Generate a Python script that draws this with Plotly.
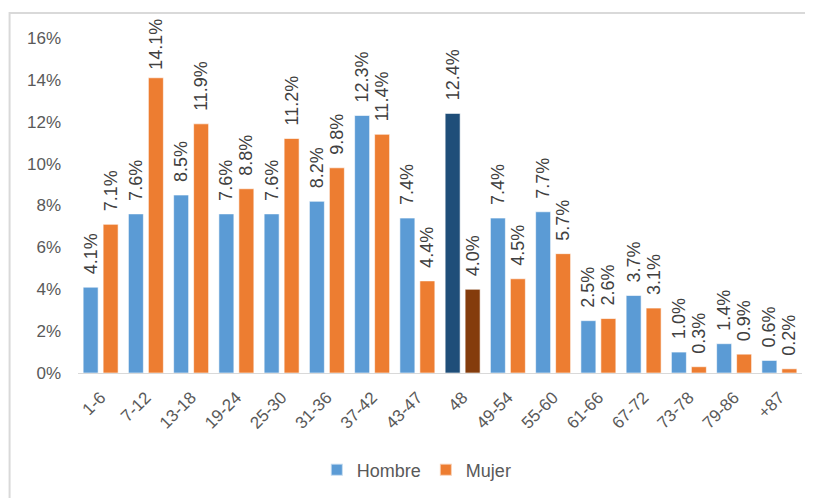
import plotly.graph_objects as go

categories = ["1-6", "7-12", "13-18", "19-24", "25-30", "31-36", "37-42", "43-47",
              "48", "49-54", "55-60", "61-66", "67-72", "73-78", "79-86", "+87"]
hombre = [4.1, 7.6, 8.5, 7.6, 7.6, 8.2, 12.3, 7.4, 12.4, 7.4, 7.7, 2.5, 3.7, 1.0, 1.4, 0.6]
mujer = [7.1, 14.1, 11.9, 8.8, 11.2, 9.8, 11.4, 4.4, 4.0, 4.5, 5.7, 2.6, 3.1, 0.3, 0.9, 0.2]
y_ticks = [0, 2, 4, 6, 8, 10, 12, 14, 16]
highlight = "48"

blue, blue_dark = "#5B9BD5", "#1F4E79"
orange, orange_dark = "#ED7D31", "#843C0C"

h_colors = [blue_dark if c == highlight else blue for c in categories]
m_colors = [orange_dark if c == highlight else orange for c in categories]

font_family = "Liberation Sans, Arial, sans-serif"


def labels(vals):
    # leading no-break spaces give the gap between bar end and rotated label
    return [("\u00a0" if v > 13.5 else "\u00a0\u00a0") + f"{v:.1f}%" for v in vals]


fig = go.Figure()
fig.add_trace(go.Bar(
    x=categories, y=[v / 100 for v in hombre], name="Hombre",
    marker=dict(color=h_colors, line=dict(color="rgba(255,255,255,0.6)", width=1)),
    text=labels(hombre), textposition="outside", textangle=-90,
    textfont=dict(size=18, color="#404040", family=font_family),
    cliponaxis=False,
))
fig.add_trace(go.Bar(
    x=categories, y=[v / 100 for v in mujer], name="Mujer",
    marker=dict(color=m_colors, line=dict(color="rgba(255,255,255,0.6)", width=1)),
    text=labels(mujer), textposition="outside", textangle=-90,
    textfont=dict(size=18, color="#404040", family=font_family),
    cliponaxis=False,
))

fig.update_layout(
    width=805, height=490,
    margin=dict(l=69.5, r=11, t=30, b=125, autoexpand=False),
    paper_bgcolor="white", plot_bgcolor="white",
    barmode="group", bargap=0.117, bargroupgap=0.25,
    font=dict(family=font_family, color="#595959", size=17),
    uniformtext=dict(minsize=18, mode="show"),
    showlegend=True,
    legend=dict(orientation="h", x=0.468, xanchor="center", y=-0.29, yanchor="middle",
                font=dict(size=18, color="#595959"), itemsizing="constant", itemwidth=30),
    xaxis=dict(tickangle=-45, showline=True, linecolor="#D9D9D9", linewidth=1,
               ticks="", tickfont=dict(size=17, color="#595959"), automargin=False,
               ticklabelstandoff=7),
    yaxis=dict(range=[0, 0.16], tickvals=[t / 100 for t in y_ticks],
               ticktext=[f"{t}%" for t in y_ticks], showgrid=False, zeroline=False,
               showline=False, tickfont=dict(size=17, color="#595959"), ticklen=0,
               ticks="", ticklabelstandoff=16, automargin=False),
    shapes=[dict(type="rect", xref="paper", yref="paper",
                 x0=-0.0945, x1=1.2, y0=-0.6, y1=1.0746,
                 line=dict(color="#D9D9D9", width=2), fillcolor="rgba(0,0,0,0)",
                 layer="below")],
)

fig.write_html("out.html")
